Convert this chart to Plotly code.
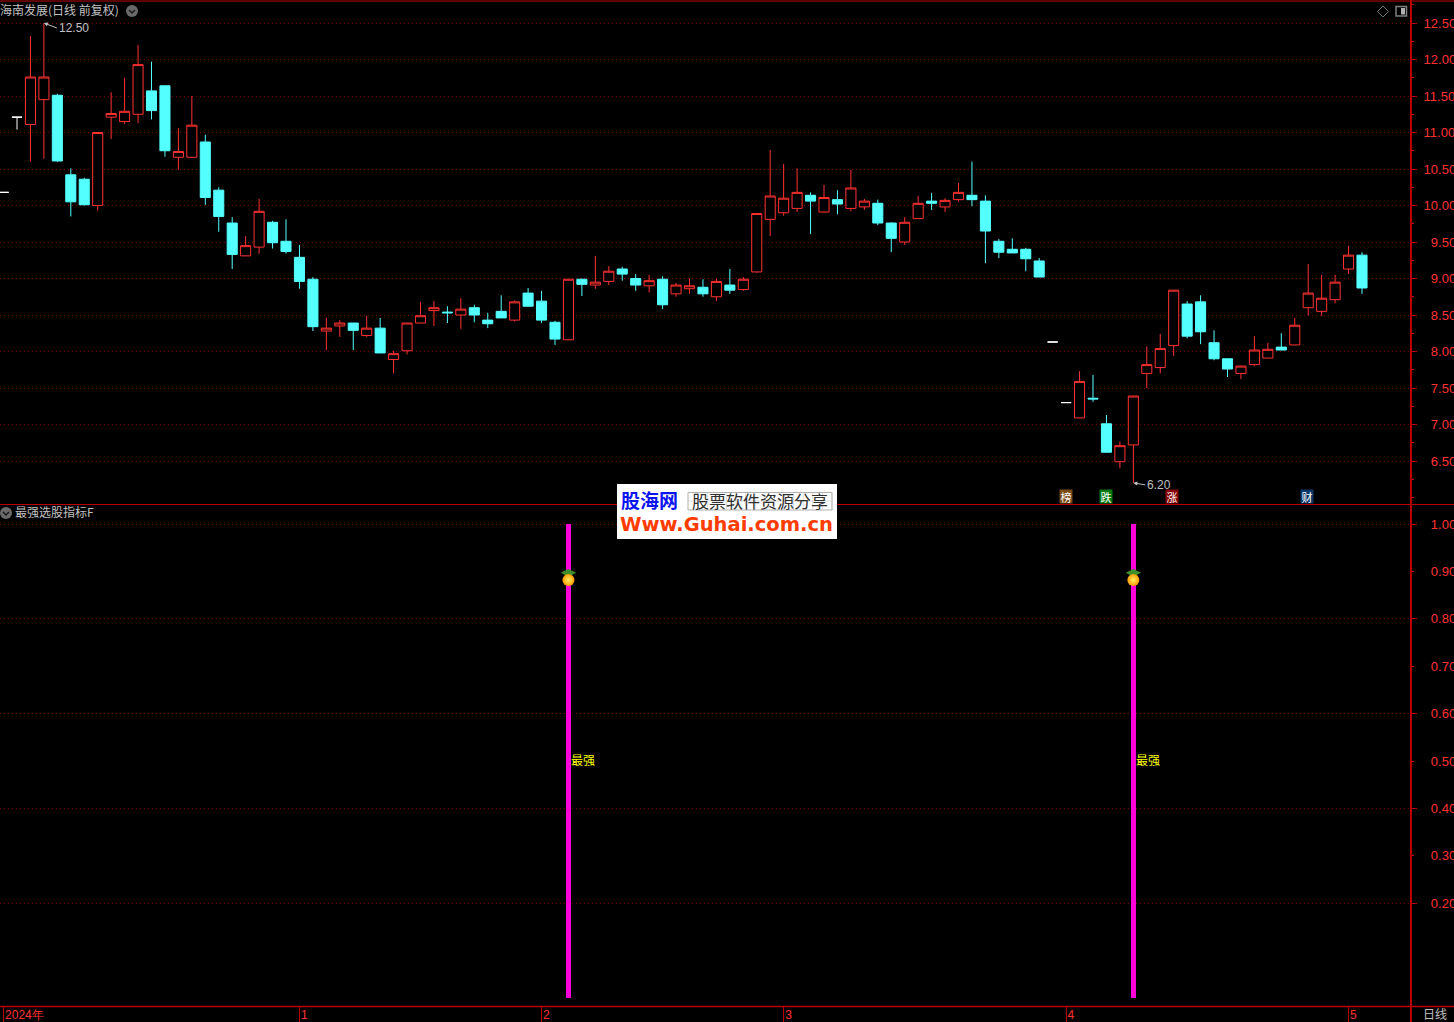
import plotly.graph_objects as go

# ---------- data ----------
# white one-price / T-shaped days
white_x = [-1, 0, 77, 78]
white_open = [10.18, 11.21, 8.13, 7.30]
white_high = [10.18, 11.21, 8.13, 7.30]
white_low = [10.18, 11.04, 8.13, 7.30]
white_close = [10.18, 11.21, 8.13, 7.30]

# red and cyan days: index 1..76, 79..100
candle_x = list(range(1, 77)) + list(range(79, 101))
body_top = [11.76,11.76,11.51,10.42,10.36,11.00,11.26,11.29,11.93,11.57,11.64,10.74,11.10,10.87,10.21,9.76,9.45,9.92,9.77,9.51,
            9.29,8.99,8.32,8.39,8.39,8.32,8.32,7.97,8.39,8.49,8.60,8.54,8.58,8.60,8.43,8.55,8.68,8.80,8.69,8.40,
            8.99,8.99,8.95,9.10,9.13,9.00,8.97,8.99,8.91,8.90,8.88,8.96,8.91,8.99,9.89,10.13,10.10,10.18,10.14,10.11,
            10.08,10.24,10.06,10.03,9.76,9.77,10.03,10.06,10.07,10.18,10.14,10.06,9.51,9.40,9.40,9.24,
            7.59,7.36,7.01,6.71,7.39,7.82,8.04,8.84,8.65,8.68,8.12,7.90,7.80,8.02,8.03,8.06,8.36,8.80,8.73,8.95,9.32,9.32]
body_bot = [11.11,11.45,10.61,10.05,10.01,10.00,11.21,11.15,11.25,11.30,10.75,10.66,10.66,10.11,9.85,9.33,9.31,9.43,9.49,9.37,
            8.96,8.34,8.28,8.35,8.29,8.22,7.98,7.89,8.01,8.39,8.56,8.53,8.50,8.50,8.38,8.46,8.43,8.62,8.43,8.17,
            8.16,8.92,8.91,8.96,9.06,8.91,8.90,8.64,8.79,8.86,8.79,8.75,8.84,8.85,9.09,9.81,9.90,9.96,10.06,9.91,
            10.02,9.96,9.98,9.76,9.55,9.50,9.82,10.03,9.98,10.08,10.08,9.65,9.36,9.35,9.27,9.02,
            7.09,7.35,6.62,6.49,6.72,7.70,7.78,8.08,8.21,8.27,7.90,7.76,7.70,7.82,7.91,8.02,8.09,8.60,8.55,8.71,9.13,8.87]
wick_high = [12.32,12.50,11.53,10.51,10.38,11.00,11.55,11.75,12.20,11.97,11.64,11.06,11.50,10.97,10.25,9.84,9.58,10.09,9.79,9.81,
             9.46,9.02,8.46,8.43,8.39,8.49,8.46,8.01,8.39,8.68,8.69,8.62,8.73,8.64,8.53,8.77,8.70,8.87,8.83,8.42,
             8.99,9.00,9.31,9.17,9.16,9.06,9.05,9.03,8.94,9.00,8.99,9.00,9.13,9.02,9.89,10.76,10.57,10.51,10.18,10.28,
             10.21,10.49,10.09,10.08,9.77,9.84,10.13,10.17,10.10,10.31,10.60,10.14,9.54,9.55,9.42,9.28,
             7.73,7.68,7.13,6.77,7.39,8.07,8.24,8.84,8.69,8.77,8.29,7.90,7.81,8.21,8.12,8.25,8.46,9.20,9.05,9.05,9.45,9.36]
wick_low = [10.60,10.64,10.60,9.85,10.00,9.93,10.91,11.12,11.13,11.18,10.67,10.49,10.66,10.01,9.64,9.13,9.31,9.34,9.41,9.34,
            8.86,8.28,8.02,8.20,8.02,8.20,7.98,7.70,7.96,8.39,8.35,8.39,8.31,8.40,8.32,8.46,8.41,8.62,8.39,8.09,
            8.16,8.76,8.86,8.91,8.97,8.83,8.81,8.58,8.75,8.79,8.75,8.69,8.79,8.83,9.08,9.58,9.86,9.91,9.61,9.90,
            9.88,9.92,9.94,9.73,9.36,9.46,9.82,9.94,9.91,10.05,9.99,9.21,9.28,9.35,9.10,9.02,
            7.09,7.31,6.62,6.40,6.20,7.50,7.70,7.94,8.18,8.10,7.88,7.65,7.62,7.80,7.91,8.02,8.09,8.49,8.49,8.66,9.06,8.79]
cyan_days = {3,4,5,10,11,14,15,16,19,20,21,22,25,27,32,34,35,36,38,39,40,42,45,46,48,51,53,59,61,64,65,68,71,72,73,74,75,76,
             80,81,87,88,89,90,94,100}

signal_x = [41, 83]
signal_y = [1.0, 1.0]
fruit_y = [0.882, 0.882]
label_y = [0.5, 0.5]
signal_label = ["最强", "最强"]

price_ticks = [6.5, 7.0, 7.5, 8.0, 8.5, 9.0, 9.5, 10.0, 10.5, 11.0, 11.5, 12.0, 12.5]
ind_ticks = [0.2, 0.3, 0.4, 0.5, 0.6, 0.7, 0.8, 0.9, 1.0]
ind_grid = [0.2, 0.4, 0.6, 0.8, 1.0]
month_ticks = [-1, 21, 39, 57, 78, 99]
month_labels = ["2024年", "1", "2", "3", "4", "5"]
event_x = [78, 81, 86, 96]
event_text = ["榜", "跌", "涨", "财"]
event_color = ["#7a4a12", "#007a10", "#860000", "#0a3868"]
event_shift = [0, 0, -2, -1]

# ---------- styles ----------
W, H = 1454, 1022
RED = "#ff3232"
CYAN = "#54ffff"
AXIS = "#b80000"
GRID = "#800000"
GRAY = "#c0c0c0"
MAG = "#ff00d8"
LAT = "Liberation Sans"
CJK = "Noto Sans CJK SC"
px = lambda x: x / W
py = lambda y: 1 - y / H

def lab(v):
    s = f"{v:.2f}"
    return s if v >= 10 else "\u2007" + s

opens, closes = [], []
for i, t, b in zip(candle_x, body_top, body_bot):
    if i in cyan_days:
        opens.append(t); closes.append(b)
    else:
        opens.append(b); closes.append(t)

fig = go.Figure()
fig.add_trace(go.Candlestick(
    x=candle_x, open=opens, high=wick_high, low=wick_low, close=closes,
    increasing=dict(line=dict(color=RED, width=1), fillcolor="#000000"),
    decreasing=dict(line=dict(color=CYAN, width=1), fillcolor=CYAN),
    whiskerwidth=0, showlegend=False, hoverinfo="skip", xaxis="x", yaxis="y"))
fig.add_trace(go.Candlestick(
    x=white_x, open=white_open, high=white_high, low=white_low, close=white_close,
    increasing=dict(line=dict(color="#ffffff", width=1), fillcolor="#ffffff"),
    decreasing=dict(line=dict(color="#ffffff", width=1), fillcolor="#ffffff"),
    whiskerwidth=0, showlegend=False, hoverinfo="skip", xaxis="x", yaxis="y"))
fig.add_trace(go.Bar(x=signal_x, y=signal_y, width=0.38, marker=dict(color=MAG, line=dict(width=0)),
                     showlegend=False, hoverinfo="skip", xaxis="x2", yaxis="y2"))
fig.add_trace(go.Scatter(x=signal_x, y=[v + 0.015 for v in fruit_y], mode="markers",
                         marker=dict(symbol="diamond-wide", size=11, color="#3f8f2a", line=dict(width=0)),
                         showlegend=False, hoverinfo="skip", xaxis="x2", yaxis="y2"))
fig.add_trace(go.Scatter(x=signal_x, y=fruit_y, mode="markers",
                         marker=dict(symbol="circle", size=12, color="#ff9c00",
                                     gradient=dict(type="radial", color="#ffee60"), line=dict(width=0)),
                         showlegend=False, hoverinfo="skip", xaxis="x2", yaxis="y2"))

xrange = [-17 / 13.45, (1410 - 17) / 13.45]
dash = "1px,3px"
fig.update_layout(
    width=W, height=H, margin=dict(l=0, r=0, t=0, b=0, autoexpand=False),
    paper_bgcolor="#000000", plot_bgcolor="#000000",
    boxmode="overlay", boxgap=0.25, boxgroupgap=0, bargap=0, showlegend=False, hovermode=False, dragmode=False,
    font=dict(family=LAT, color=RED, size=13),
    xaxis=dict(domain=[0, px(1410)], range=xrange, anchor="y", showgrid=False, showticklabels=False,
               ticks="", zeroline=False, showline=False, rangeslider=dict(visible=False)),
    xaxis2=dict(domain=[0, px(1410)], range=xrange, anchor="y2", showgrid=False, zeroline=False, showline=False,
                tickmode="array", tickvals=month_ticks, ticktext=month_labels,
                ticks="outside", ticklen=16, tickcolor=AXIS, tickwidth=1,
                ticklabelposition="outside right", ticklabelstandoff=-2, ticklabelshift=1, ticklabeloverflow="allow",
                tickfont=dict(color=RED, size=12, family=LAT)),
    yaxis=dict(domain=[py(504), py(1.5)], range=[12.815 - 504 / 73, 12.815 - 1.5 / 73], anchor="x", side="right",
               tickmode="array", tickvals=price_ticks, ticktext=[lab(v) for v in price_ticks],
               ticks="outside", ticklen=6, tickcolor=AXIS, tickwidth=1,
               minor=dict(dtick=0.25, ticks="outside", ticklen=3, tickcolor=AXIS, showgrid=False),
               showgrid=True, gridcolor=GRID, griddash=dash, gridwidth=1, zeroline=False, showline=False,
               ticklabelstandoff=4, ticklabeloverflow="allow", tickfont=dict(color=RED, size=13, family=LAT)),
    yaxis2=dict(domain=[py(1006), py(505)], range=[1 - (1006 - 524) / 474, 1 + (524 - 505) / 474], anchor="x2", side="right",
                tickmode="array", tickvals=ind_ticks, ticktext=[lab(v) for v in ind_ticks],
                ticks="outside", ticklen=3, tickcolor=AXIS, tickwidth=1,
                minor=dict(tickmode="array", tickvals=ind_grid, ticks="outside", ticklen=6, tickcolor=AXIS,
                           showgrid=True, gridcolor=GRID, griddash=dash, gridwidth=1),
                showgrid=False, zeroline=False, showline=False,
                ticklabelstandoff=7, ticklabeloverflow="allow", tickfont=dict(color=RED, size=13, family=LAT)),
)

def pline(x0, y0, x1, y1, color=AXIS, width=1):
    return dict(type="line", xref="paper", yref="paper", x0=px(x0), y0=py(y0), x1=px(x1), y1=py(y1),
                line=dict(color=color, width=width), layer="above")

def prect(x0, y0, x1, y1, fill=None, color=None, width=1):
    return dict(type="rect", xref="paper", yref="paper", x0=px(x0), y0=py(y0), x1=px(x1), y1=py(y1),
                fillcolor=fill or "rgba(0,0,0,0)", line=dict(color=color or "rgba(0,0,0,0)", width=width), layer="above")

def pcircle(cx, cy, r, fill):
    return dict(type="circle", xref="paper", yref="paper", x0=px(cx - r), y0=py(cy + r), x1=px(cx + r), y1=py(cy - r),
                fillcolor=fill, line=dict(width=0), layer="above")

def chevron(cx, cy):
    return dict(type="path", xref="paper", yref="paper",
                path=f"M {px(cx-3)} {py(cy-1)} L {px(cx)} {py(cy+2)} L {px(cx+3)} {py(cy-1)}",
                line=dict(color="#1a1a1a", width=1.5), layer="above")

shapes = [
    pline(0, 1, W, 1), pline(0, 504.5, W, 504.5), pline(0, 1006.5, W, 1006.5, width=1.5),
    pline(1411, 0, 1411, H, width=2),
    pcircle(132, 11, 6, "#6a6a6a"), chevron(132, 11),
    pcircle(6, 513, 6, "#6a6a6a"), chevron(6, 513),
    dict(type="path", xref="paper", yref="paper", layer="above", line=dict(color="#707070", width=1),
         path=f"M {px(1377.5)} {py(11.5)} L {px(1383)} {py(6)} L {px(1388.5)} {py(11.5)} L {px(1383)} {py(17)} Z"),
    prect(1396, 6.5, 1406.5, 16, fill="#000000", color="#808080", width=1.5),
    prect(1401, 8, 1405, 14.5, fill="#b0b0b0"),
    prect(617, 484, 837, 539, fill="#ffffff"),
    prect(688, 492.5, 832, 510, color="#b0b0b0"),
]
for k in range(1, 16):
    shapes.append(pline(688 + 9.6 * k, 492.5, 688 + 9.6 * k, 510, color="#c8c8c8", width=0.6))
shapes.append(pline(688, 501, 832, 501, color="#c8c8c8", width=0.6))
fig.update_layout(shapes=shapes)

def ptext(x, y, text, color=GRAY, size=12, family=CJK, anchor="left", bold=False):
    return dict(xref="paper", yref="paper", x=px(x), y=py(y), text=f"<b>{text}</b>" if bold else text, showarrow=False,
                xanchor=anchor, yanchor="middle", font=dict(color=color, size=size, family=family),
                borderpad=0, borderwidth=0)

annos = [
    ptext(0, 10, "海南发展(日线 前复权)", size=12),
    ptext(15, 511.5, "最强选股指标F", size=12),
    ptext(1423, 1013, "日线", size=12),
    ptext(621, 499.5, "股海网", color="#0a14f0", size=19, bold=True),
    ptext(760, 500.5, "股票软件资源分享", color="#303030", size=17, family=CJK, anchor="center"),
    ptext(726.5, 524, "Www.Guhai.com.cn", color="#ff3c00", size=19.5, family="DejaVu Sans", anchor="center", bold=True),
    dict(xref="x", yref="y", x=2, y=12.50, text="12.50", showarrow=True, ax=13, ay=5, arrowcolor=GRAY, arrowwidth=1,
         arrowhead=2, arrowsize=0.8, standoff=0, xanchor="left", yanchor="middle",
         font=dict(color=GRAY, size=12, family=LAT)),
    dict(xref="x", yref="y", x=83, y=6.20, text="6.20", showarrow=True, ax=12, ay=2, arrowcolor=GRAY, arrowwidth=1,
         arrowhead=2, arrowsize=0.8, standoff=0, xanchor="left", yanchor="middle",
         font=dict(color=GRAY, size=12, family=LAT)),
]
for x, y, t in zip(signal_x, label_y, signal_label):
    annos.append(dict(xref="x2", yref="y2", x=x, y=y, text=t, showarrow=False, xanchor="left", yanchor="middle",
                      xshift=1.5, yshift=2, font=dict(color="#ffff00", size=12, family=CJK), borderpad=0))
for x, t, c, s in zip(event_x, event_text, event_color, event_shift):
    annos.append(dict(xref="x", yref="paper", x=x, y=py(496.5), text=t, showarrow=False, bgcolor=c, xshift=s,
                      width=12, height=13, font=dict(color="#ffffff", size=11, family=CJK), borderpad=0,
                      xanchor="center", yanchor="middle"))
fig.update_layout(annotations=annos)

fig.write_html("out.html", config={"displayModeBar": False},
               post_script="document.body.style.margin='0';document.body.style.background='#000';document.body.style.overflow='hidden';")
